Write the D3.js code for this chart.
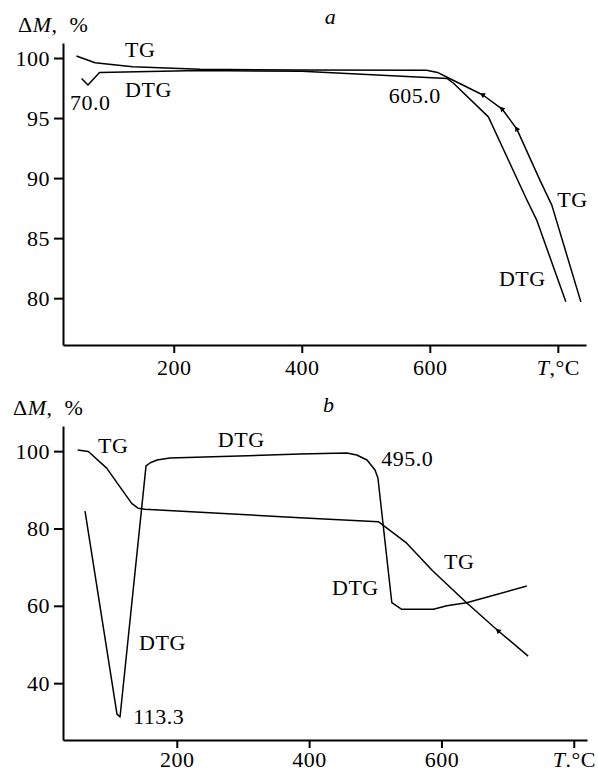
<!DOCTYPE html>
<html>
<head>
<meta charset="utf-8">
<script src="https://cdn.jsdelivr.net/npm/d3@7"></script>
<style>
  body { margin: 0; background: #fff; }
  text { font-family: "Liberation Serif", "Times New Roman", serif; fill: #000; }
</style>
</head>
<body>
<svg id="chart" width="598" height="771"></svg>
<script>
// panel a
const tgTempA = [48, 77, 136, 241, 400, 595, 612, 627, 683, 713, 736, 772, 790.6, 836]
const tgMassA = [100.17, 99.6, 99.28, 99.06, 99.0, 98.98, 98.8, 98.4, 96.92, 95.75, 94.08, 89.83, 87.75, 79.69]
const dtgTempA = [56, 66, 84, 240, 400, 627, 637, 691.5, 751.5, 767, 812.5]
const dtgMassA = [98.3, 97.75, 98.8, 98.95, 98.9, 98.3, 97.9, 95.1, 88.2, 86.5, 79.7]
const arrowTempA = [683, 713, 736]
const arrowMassA = [96.92, 95.75, 94.08]
const yTicksA = [80, 85, 90, 95, 100]

// panel b
const tgTempB = [50.2, 66.3, 94, 131.8, 141.8, 152, 386, 504.6, 547.5, 587, 638, 686, 731]
const tgMassB = [100.3, 99.9, 95.6, 86.5, 85.2, 84.95, 82.8, 81.75, 76.2, 69, 60.8, 53.5, 47.0]
const dtgTempB = [61.3, 109.6, 114.2, 153.5, 160, 170, 189.7, 386, 457, 472, 487.5, 499.6, 504, 525, 540, 588, 608, 638, 729]
const dtgMassB = [84.5, 32.0, 31.25, 96.2, 97.0, 97.7, 98.2, 99.26, 99.5, 99.0, 97.7, 95.1, 93.05, 60.8, 59.1, 59.1, 60.0, 60.8, 65.1]
const arrowTempB = [686]
const arrowMassB = [53.5]
const yTicksB = [40, 60, 80, 100]

const xTicks = [200, 400, 600, 800]

const labelsA = [
  { text: 'TG', T: 124, v: 100.08 },
  { text: 'DTG', T: 124, v: 96.75 },
  { text: '70.0', T: 38, v: 95.67 },
  { text: '605.0', T: 536, v: 96.25 },
  { text: 'TG', T: 799, v: 87.58 },
  { text: 'DTG', T: 708, v: 81.0 }
]
const labelsB = [
  { text: 'TG', T: 81, v: 99.5 },
  { text: 'DTG', T: 262, v: 101.1 },
  { text: '495.0', T: 509, v: 96.2 },
  { text: 'TG', T: 604, v: 69.5 },
  { text: 'DTG', T: 434.6, v: 62.8 },
  { text: 'DTG', T: 143, v: 48.6 },
  { text: '113.3', T: 134, v: 29.4 }
]

const svg = d3.select('#chart')
const fontSize = 22

function drawPanel(cfg) {
  const x = d3.scaleLinear().domain(cfg.xDomain).range([63, cfg.xRight])
  const y = d3.scaleLinear().domain(cfg.yDomain).range([cfg.yBottom, cfg.yTop])
  const g = svg.append('g')

  const xAxis = d3.axisBottom(x)
    .tickValues(xTicks)
    .tickSize(8)
    .tickSizeOuter(0)
    .tickPadding(cfg.xPad)
    .tickFormat(d => d === 800 ? '' : d)

  const xg = g.append('g')
    .attr('transform', `translate(0,${cfg.yBottom})`)
    .call(xAxis)

  const unitText = xg.selectAll('.tick').filter(d => d === 800).select('text')
  unitText.append('tspan').attr('font-style', 'italic').text('T')
  unitText.append('tspan').text(cfg.unit)

  const yAxis = d3.axisLeft(y)
    .tickValues(cfg.yTicks)
    .tickSize(9)
    .tickSizeOuter(0)
    .tickPadding(4)

  g.append('g')
    .attr('transform', 'translate(63,0)')
    .call(yAxis)

  g.selectAll('.domain').attr('stroke-width', 2)
  g.selectAll('.tick line').attr('stroke-width', 2)
  g.selectAll('.tick text')
    .attr('font-size', fontSize)
    .attr('font-family', '"Liberation Serif", serif')
    .style('letter-spacing', '0.5px')

  const line = d3.line().x(d => x(d[0])).y(d => y(d[1]))

  g.selectAll('path.curve')
    .data([d3.zip(cfg.tgT, cfg.tgM), d3.zip(cfg.dtgT, cfg.dtgM)])
    .join('path')
      .attr('class', 'curve')
      .attr('d', line)
      .attr('fill', 'none')
      .attr('stroke', '#000')
      .attr('stroke-width', 1.5)
      .attr('stroke-linejoin', 'round')

  // small arrow heads on the TG curve
  const arrows = d3.zip(cfg.arrT, cfg.arrM)
  g.selectAll('path.arrow')
    .data(arrows)
    .join('path')
      .attr('class', 'arrow')
      .attr('d', d3.symbol(d3.symbolTriangle, 14))
      .attr('transform', d => {
        const i = cfg.tgT.indexOf(d[0])
        const j = Math.min(i + 1, cfg.tgT.length - 1)
        const a = Math.atan2(y(cfg.tgM[j]) - y(cfg.tgM[i - 1]), x(cfg.tgT[j]) - x(cfg.tgT[i - 1])) * 180 / Math.PI
        return `translate(${x(d[0])},${y(d[1])}) rotate(${a - 90})`
      })
      .attr('fill', '#000')

  g.selectAll('text.lbl')
    .data(cfg.labels)
    .join('text')
      .attr('class', 'lbl')
      .attr('x', d => x(d.T))
      .attr('y', d => y(d.v))
      .attr('font-size', fontSize)
      .style('letter-spacing', '0.5px')
      .text(d => d.text)

  g.append('text')
    .attr('x', x(cfg.panelPos[0]))
    .attr('y', y(cfg.panelPos[1]))
    .attr('font-size', fontSize)
    .attr('font-style', 'italic')
    .text(cfg.panel)

  const yl = g.append('text')
    .attr('x', cfg.yLabelX)
    .attr('y', cfg.yTop - 11)
    .attr('font-size', fontSize)
    .style('letter-spacing', '0.5px')
  yl.append('tspan').text('Δ')
  yl.append('tspan').attr('font-style', 'italic').text('M')
  yl.append('tspan').text(',\u00a0\u00a0%')
}

drawPanel({
  xDomain: [27, 844], xRight: 586,
  yDomain: [76.1, 101.25], yTop: 43, yBottom: 345, xPad: 6,
  yTicks: yTicksA, unit: ',°C',
  tgT: tgTempA, tgM: tgMassA, dtgT: dtgTempA, dtgM: dtgMassA,
  arrT: arrowTempA, arrM: arrowMassA,
  labels: labelsA, panel: 'a', panelPos: [436, 102.8], yLabelX: 18
})

drawPanel({
  xDomain: [28, 820], xRight: 587,
  yDomain: [25.3, 106.5], yTop: 426, yBottom: 740, xPad: 3,
  yTicks: yTicksB, unit: '.°C',
  tgT: tgTempB, tgM: tgMassB, dtgT: dtgTempB, dtgM: dtgMassB,
  arrT: arrowTempB, arrM: arrowMassB,
  labels: labelsB, panel: 'b', panelPos: [421, 110.1], yLabelX: 13
})
</script>
</body>
</html>
